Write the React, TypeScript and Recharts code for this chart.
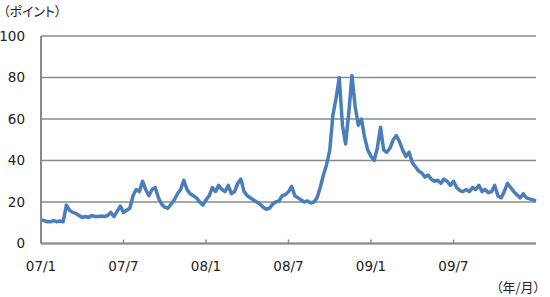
// Volatility index, weekly, 2007/1 – 2009/12

import { LineChart, Line, XAxis, YAxis, CartesianGrid } from 'recharts';

const tickWeeks = [0, 26, 52, 78, 104, 130];
const tickLabels = ['07/1', '07/7', '08/1', '08/7', '09/1', '09/7'];
const yTicks = [0, 20, 40, 60, 80, 100];

// one value per week
const values2007 = [
  11.5, 11, 10.5, 10.5, 11, 10.5, 10.8, 10.5, 18.5, 16, 15, 14.5, 13.5,
  12.5, 13, 12.5, 13.5, 13, 13, 13.2, 13, 13.5, 15, 13, 15.5, 18,
  15, 16, 17, 23, 26, 25, 30, 26, 23, 26, 27, 22, 19,
  17.5, 17, 19, 21, 24, 26, 30.5, 26, 24, 23, 22, 20, 18.5,
];
const values2008 = [
  21, 23, 27, 25, 28, 26, 25, 28, 24, 25, 29, 31, 25,
  23, 22, 21, 20, 19, 17.5, 16.5, 17, 19, 20, 20.5, 23, 23.5,
  25, 27.5, 23, 22, 21, 20, 20.5, 19.5, 20, 22, 27, 33, 38,
  45, 62, 70, 80, 57, 48, 63, 81, 66, 57, 60, 51, 45,
];
const values2009 = [
  42, 40, 46, 56, 45, 44, 46, 50, 52, 49, 45, 42, 44,
  39, 37, 35, 34, 32, 33, 31, 30, 30.5, 29, 31, 30, 28,
  30, 27, 25.5, 25, 26, 25, 27, 26, 28, 25, 26, 24.5, 25,
  28, 23, 22, 25, 29, 27, 25, 23.5, 22, 24, 22, 21.5, 21, 20.5,
];

const values = [...values2007, ...values2008, ...values2009];
const data = values.map((v, i) => ({ week: i, value: v }));

const FONT = '"DejaVu Sans", Verdana, sans-serif';
const JP_FONT = '"Noto Sans CJK JP", sans-serif';
const GRID = '#8a8a8a';

function XTick(props: any) {
  const { x, y, payload } = props;
  const idx = tickWeeks.indexOf(payload.value);
  return (
    <g>
      {idx > 0 && <line x1={x} x2={x} y1={y - 4} y2={y} stroke={GRID} strokeWidth={1.5} />}
      <text x={x} y={y + 27} textAnchor="middle" fontSize={13.5} fontFamily={FONT} fill="#222">
        {tickLabels[idx]}
      </text>
    </g>
  );
}

export default function App() {
  return (
    <div style={{ position: 'fixed', left: 0, top: 0, width: 550, height: 297, background: '#fff' }}>
      <LineChart
        width={550}
        height={297}
        data={data}
        margin={{ top: 36, right: 14, left: 0, bottom: 23.5 }}
      >
        <CartesianGrid vertical={false} stroke={GRID} strokeWidth={1.5} />
        <XAxis
          type="number"
          dataKey="week"
          domain={[0, 156]}
          ticks={tickWeeks}
          height={30}
          tickSize={0}
          tickMargin={0}
          tickLine={false}
          axisLine={{ stroke: GRID, strokeWidth: 2 }}
          tick={<XTick />}
        />
        <YAxis
          type="number"
          domain={[0, 100]}
          ticks={yTicks}
          width={41}
          tickSize={0}
          tickMargin={16}
          tickLine={false}
          axisLine={{ stroke: GRID, strokeWidth: 2 }}
          tick={{ fill: '#222', fontSize: 13.5, fontFamily: FONT }}
        />
        <Line
          type="linear"
          dataKey="value"
          stroke="#4a7ebb"
          strokeWidth={3.5}
          strokeLinejoin="round"
          dot={false}
          isAnimationActive={false}
        />
      </LineChart>
      <div
        style={{
          position: 'absolute', left: 3, top: 3, fontSize: 13, fontFamily: JP_FONT,
          color: '#222', fontFeatureSettings: '"palt"', lineHeight: '16px',
        }}
      >
        （ポイント）
      </div>
      <div
        style={{
          position: 'absolute', left: 496, top: 279, fontSize: 13, fontFamily: JP_FONT,
          color: '#222', fontFeatureSettings: '"palt"', lineHeight: '16px',
        }}
      >
        （年/月）
      </div>
    </div>
  );
}
